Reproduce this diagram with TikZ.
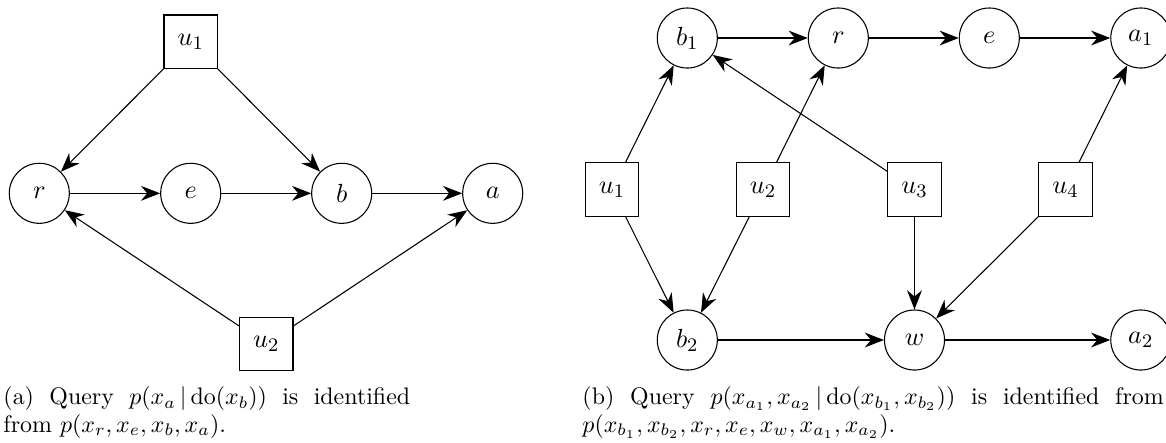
\documentclass[tikz,border=0pt]{standalone}
\usetikzlibrary{arrows.meta}
\begin{document}
\begin{tikzpicture}[x=0.418pt,y=-0.418pt,
  var/.style={circle,draw,line width=0.45pt,minimum size=25.1pt,inner sep=0pt,font=\fontsize{11.2}{13}\selectfont},
  conf/.style={rectangle,draw,line width=0.45pt,minimum size=22.3pt,inner sep=0pt,font=\fontsize{11.2}{13}\selectfont},
  arr/.style={-{Stealth[length=8pt,width=6.2pt,inset=2.6pt]},line width=0.45pt},
  captext/.style={anchor=north west,inner sep=0pt,align=justify,font=\fontsize{10}{11.6}\selectfont}]
\useasboundingbox (0,0) rectangle (1166,442);
% ---------- (a) ----------
\node[conf] (Lu1) at (190.7,41.7) {$u_1$};
\node[var]  (Lr)  at (39.3,193.3) {$r$};
\node[var]  (Le)  at (190.7,193.3) {$e$};
\node[var]  (Lb)  at (341.7,193.3) {$b$};
\node[var]  (La)  at (492.7,193.3) {$a$};
\node[conf] (Lu2) at (266.3,344) {$u_2$};
\draw[arr] (Lu1) -- (Lr);
\draw[arr] (Lu1) -- (Lb);
\draw[arr] (Lr) -- (Le);
\draw[arr] (Le) -- (Lb);
\draw[arr] (Lb) -- (La);
\draw[arr] (Lu2) -- (Lr);
\draw[arr] (Lu2) -- (La);
\node[captext,text width=170pt] (capa) at (3,386)
  {(a) Query $p(x_a\,|\,\mathrm{do}(x_b))$ is identified\linebreak from $p(x_r,x_e,x_b,x_a)$.};
% ---------- (b) ----------
\node[var]  (b1) at (687.3,38) {$b_1$};
\node[var]  (r)  at (838.3,38) {$r$};
\node[var]  (e)  at (989.3,38) {$e$};
\node[var]  (a1) at (1140.8,38) {$a_1$};
\node[conf] (u1) at (612,189.5) {$u_1$};
\node[conf] (u2) at (763,189.5) {$u_2$};
\node[conf] (u3) at (914.5,189.5) {$u_3$};
\node[conf] (u4) at (1065.5,189.5) {$u_4$};
\node[var]  (b2) at (687.3,340) {$b_2$};
\node[var]  (w)  at (914.5,340) {$w$};
\node[var]  (a2) at (1140.8,340) {$a_2$};
\draw[arr] (b1) -- (r);
\draw[arr] (r) -- (e);
\draw[arr] (e) -- (a1);
\draw[arr] (b2) -- (w);
\draw[arr] (w) -- (a2);
\draw[arr] (u1) -- (b1);
\draw[arr] (u1) -- (b2);
\draw[arr] (u2) -- (r);
\draw[arr] (u2) -- (b2);
\draw[arr] (u3) -- (b1);
\draw[arr] (u3) -- (w);
\draw[arr] (u4) -- (a1);
\draw[arr] (u4) -- (w);
\node[captext,text width=243pt] (capb) at (582,386)
  {(b) Query $p(x_{a_1},x_{a_2}\,|\,\mathrm{do}(x_{b_1},x_{b_2}))$ is identified from\linebreak $p(x_{b_1},x_{b_2},x_r,x_e,x_w,x_{a_1},x_{a_2})$.};
\end{tikzpicture}
\end{document}
